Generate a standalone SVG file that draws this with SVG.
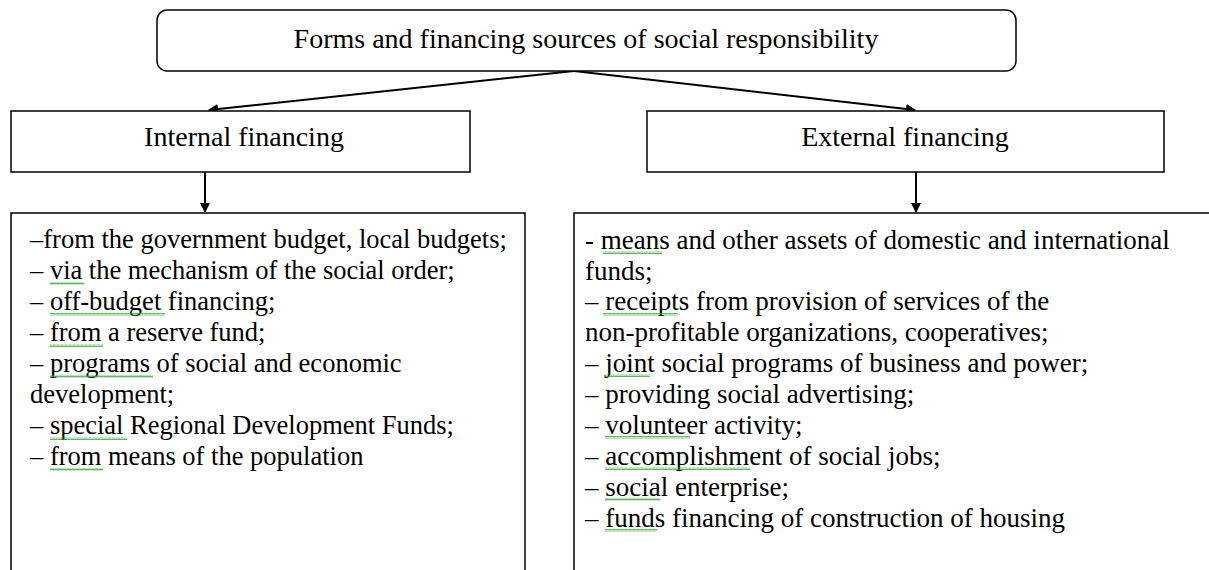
<svg xmlns="http://www.w3.org/2000/svg" width="1209" height="570" viewBox="0 0 1209 570">
<style>
.box{fill:#fff;stroke:#000;stroke-width:1.5}
.t{font-family:"Liberation Serif","Times New Roman",serif;font-size:26.5px;fill:#000}
.r{font-size:27px}
.h{font-size:28px}
.c{text-anchor:middle}
.ln{stroke:#000;stroke-width:2;fill:none}
.sq{fill:url(#wave)}
</style>
<defs>
<marker id="ah" markerWidth="10" markerHeight="10" refX="9" refY="5" orient="auto" markerUnits="userSpaceOnUse" viewBox="0 0 10 10">
<path d="M0,0 L10,5 L0,10 z" fill="#000"/>
</marker>
<pattern id="wave" width="4" height="3" patternUnits="userSpaceOnUse">
<path d="M0,2.5 L1,0.5 L2,2.5 L3,0.5 L4,2.5" stroke="#3aa53a" stroke-width="0.8" fill="none"/>
</pattern>
</defs>
<rect width="1209" height="570" fill="#fff"/>
<g id="connectors">
<line class="ln" x1="574" y1="71" x2="209" y2="110" marker-end="url(#ah)"/>
<line class="ln" x1="574" y1="71" x2="915" y2="110" marker-end="url(#ah)"/>
<line class="ln" x1="205" y1="172" x2="205" y2="212" marker-end="url(#ah)"/>
<line class="ln" x1="916" y1="172" x2="916" y2="212" marker-end="url(#ah)"/>
</g>
<g id="root">
<rect class="box" x="157" y="10" width="859" height="61" rx="10"/>
<text class="t h c" x="586" y="48">Forms and financing sources of social responsibility</text>
</g>
<g id="internal">
<rect class="box" x="11" y="111" width="459" height="61"/>
<text class="t h c" x="244" y="146">Internal financing</text>
</g>
<g id="external">
<rect class="box" x="647" y="111" width="517" height="61"/>
<text class="t h c" x="905" y="146">External financing</text>
</g>
<g id="internal-list">
<rect class="box" x="11" y="213" width="514" height="370"/>
<text class="t" x="30" y="248">–from the government budget, local budgets;</text>
<text class="t" x="30" y="279">– via the mechanism of the social order;</text>
<text class="t" x="30" y="310">– off-budget financing;</text>
<text class="t" x="30" y="341">– from a reserve fund;</text>
<text class="t" x="30" y="372">– programs of social and economic</text>
<text class="t" x="30" y="403">development;</text>
<text class="t" x="30" y="434">– special Regional Development Funds;</text>
<text class="t" x="30" y="465">– from means of the population</text>
<rect class="sq" x="50" y="282" width="34" height="3"/>
<rect class="sq" x="50" y="313" width="115" height="3"/>
<rect class="sq" x="50" y="344" width="53" height="3"/>
<rect class="sq" x="50" y="375" width="103" height="3"/>
<rect class="sq" x="50" y="437" width="77" height="3"/>
<rect class="sq" x="50" y="468" width="53" height="3"/>
</g>
<g id="external-list">
<rect class="box" x="574" y="213" width="650" height="370"/>
<text class="t r" x="585" y="249">- means and other assets of domestic and international</text>
<text class="t r" x="585" y="280">funds;</text>
<text class="t r" x="585" y="310">– receipts from provision of services of the</text>
<text class="t r" x="585" y="341">non-profitable organizations, cooperatives;</text>
<text class="t r" x="585" y="372">– joint social programs of business and power;</text>
<text class="t r" x="585" y="403">– providing social advertising;</text>
<text class="t r" x="585" y="434">– volunteer activity;</text>
<text class="t r" x="585" y="465">– accomplishment of social jobs;</text>
<text class="t r" x="585" y="496">– social enterprise;</text>
<text class="t r" x="585" y="527">– funds financing of construction of housing</text>
<rect class="sq" x="603" y="251" width="59" height="3"/>
<rect class="sq" x="603" y="313" width="75" height="3"/>
<rect class="sq" x="605" y="374" width="45" height="3"/>
<rect class="sq" x="605" y="436" width="85" height="3"/>
<rect class="sq" x="605" y="467" width="145" height="3"/>
<rect class="sq" x="605" y="498" width="55" height="3"/>
<rect class="sq" x="605" y="529" width="52" height="3"/>
</g>
</svg>
